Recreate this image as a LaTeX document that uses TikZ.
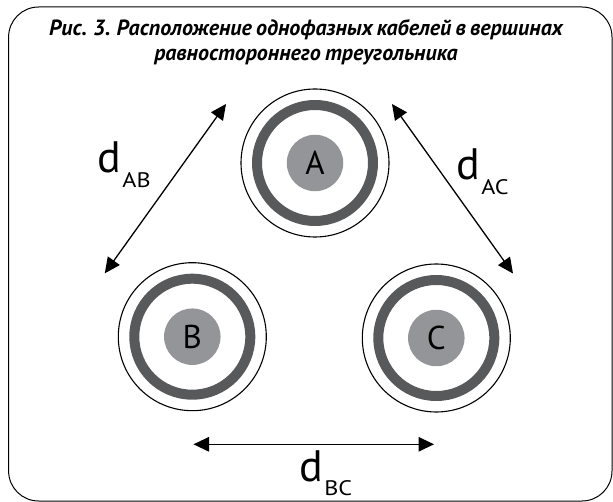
\documentclass[tikz,border=0pt]{standalone}
\usepackage{fontspec}
\setmainfont[WordSpace=0.75]{PT Sans}
\usepackage{graphicx}
\usetikzlibrary{arrows.meta}
\definecolor{ringgray}{HTML}{58595B}
\definecolor{coregray}{HTML}{939598}
\newcommand{\distlabel}[2]{\fontsize{#2}{#2}\selectfont d\raisebox{-14.5pt}{\hspace{1.5pt}\scalebox{1.15}[1]{\fontsize{21}{21}\selectfont #1}}}
\tikzset{
  x=1pt,y=-1pt,
  frame/.style={draw=black,line width=1pt,rounded corners=30pt},
  outerc/.style={circle,draw=black,line width=1.1pt,minimum size=148pt,inner sep=0pt},
  ringc/.style={circle,draw=ringgray,line width=10pt,minimum size=116pt,inner sep=0pt},
  corec/.style={circle,fill=coregray,minimum size=56.5pt,inner sep=0pt,font=\fontsize{33}{33}\selectfont},
  dim/.style={line width=1.3pt,{Triangle[length=15.5pt,width=14.5pt]}-{Triangle[length=15.5pt,width=14.5pt]},black},
  distl/.style={anchor=base west,inner sep=0pt},
  titlel/.style={inner sep=0pt,align=center,font=\fontsize{22}{25.5}\selectfont\bfseries\itshape}
}
\begin{document}
\begin{tikzpicture}
\useasboundingbox (0,0) rectangle (613,502);
\draw[frame] (8.6,7) rectangle (612,501);
\node[titlel] (title) at (306,42.5) {Рис. 3. Расположение однофазных кабелей в вершинах\\равностороннего треугольника};
\node[outerc] (oa) at (315,163) {};
\node[ringc] (ra) at (315,163) {};
\node[corec] (a) at (315,163) {A};
\node[outerc] (ob) at (192.3,336.7) {};
\node[ringc] (rb) at (192.3,336.7) {};
\node[corec] (b) at (192.3,336.7) {B};
\node[outerc] (oc) at (436.3,338) {};
\node[ringc] (rc) at (436.3,338) {};
\node[corec] (c) at (436.3,338) {C};
\coordinate (ab1) at (226,104);
\coordinate (ab2) at (104.8,273.3);
\coordinate (ac1) at (392,104);
\coordinate (ac2) at (513,273.5);
\coordinate (bc1) at (193.5,444.3);
\coordinate (bc2) at (434,444.3);
\draw[dim] (ab1) -- (ab2);
\draw[dim] (ac1) -- (ac2);
\draw[dim] (bc1) -- (bc2);
\node[distl] (lab) at (97,173) {\distlabel{AB}{44}};
\node[distl] (lac) at (456,180) {\distlabel{AC}{44}};
\node[distl] (lbc) at (299,481) {\distlabel{BC}{44}};
\end{tikzpicture}
\end{document}
